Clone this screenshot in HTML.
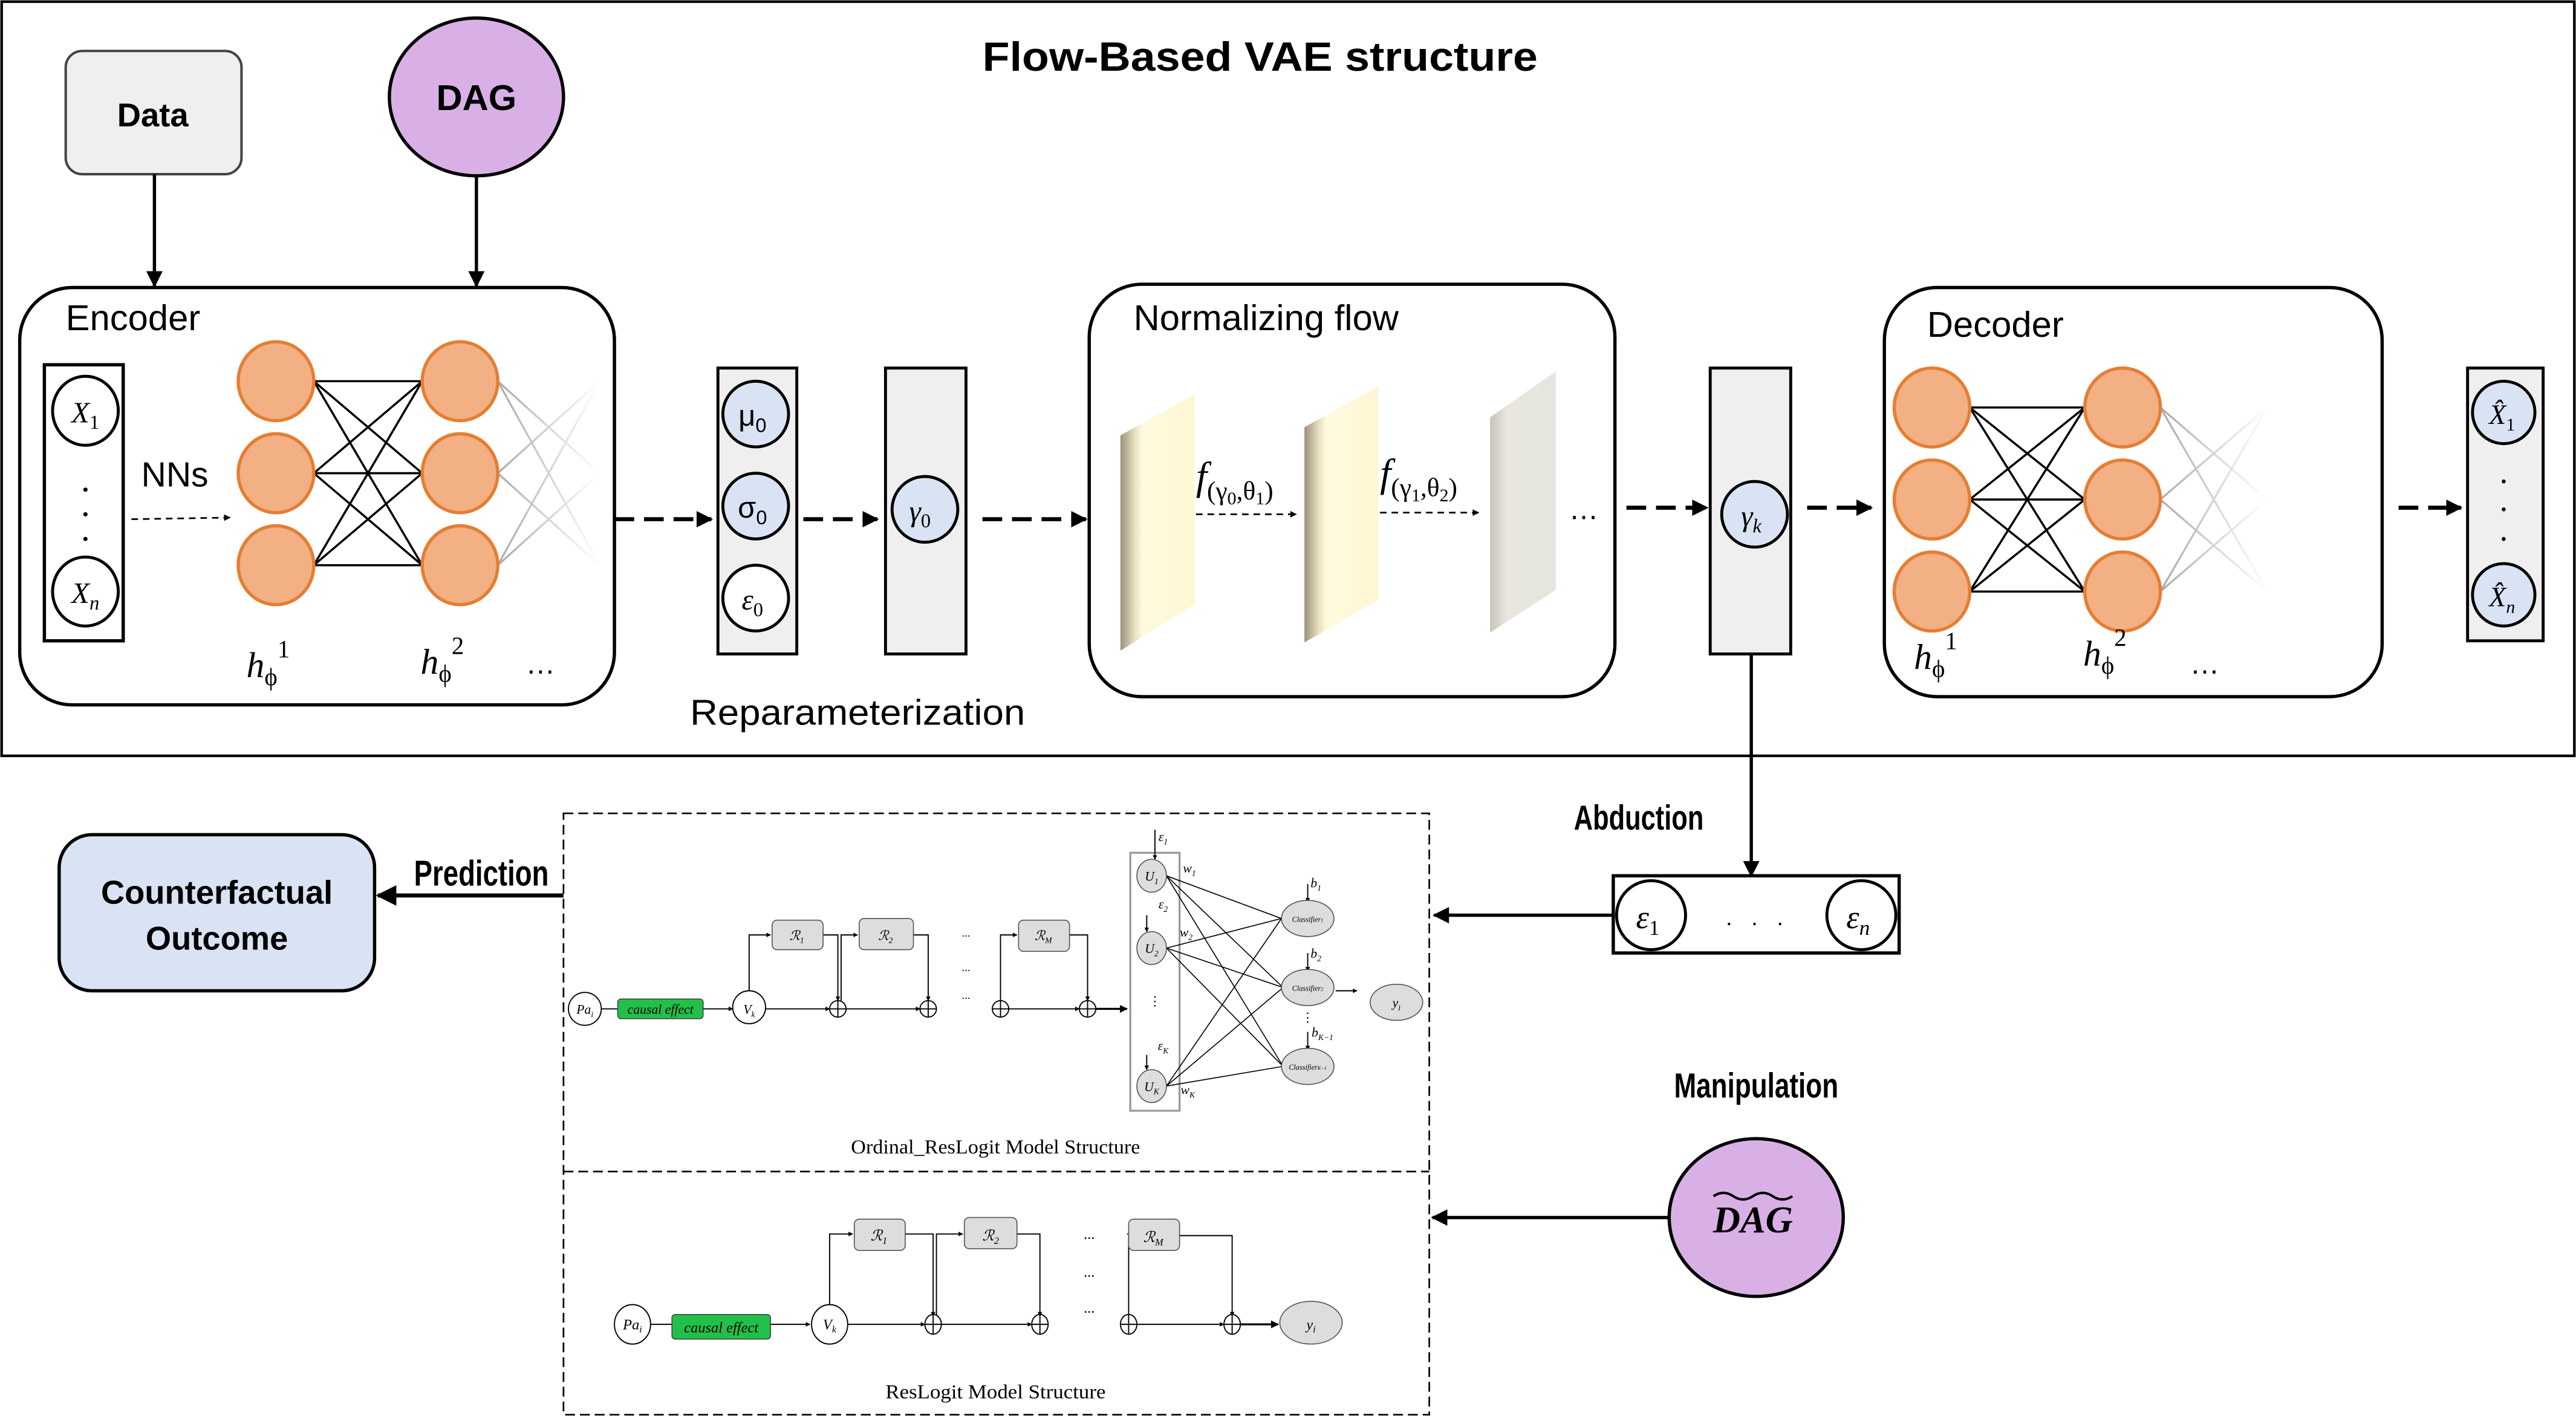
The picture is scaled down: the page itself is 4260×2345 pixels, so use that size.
<!DOCTYPE html>
<html><head><meta charset="utf-8"><style>
html,body{margin:0;padding:0;background:#fff}
svg{display:block}
text{font-family:"Liberation Sans",sans-serif}
.m{font-family:"Liberation Serif",serif;font-style:italic}
.s{font-family:"Liberation Serif",serif}
.n{font-family:"Liberation Sans",sans-serif;font-weight:bold}
</style></head><body>
<svg width="4260" height="2345" viewBox="0 0 1568 863" preserveAspectRatio="none" xmlns="http://www.w3.org/2000/svg">
<defs>
<marker id="a" viewBox="0 0 10 10" refX="9" refY="5" markerWidth="5" markerHeight="5" orient="auto"><path d="M0,0L10,5L0,10z" fill="#000"/></marker>
<marker id="b" viewBox="0 0 10 10" refX="9" refY="5" markerWidth="4" markerHeight="4" orient="auto"><path d="M0,0L10,5L0,10z" fill="#000"/></marker>
<linearGradient id="sl" x1="0" x2="1"><stop offset="0" stop-color="#9c927a"/><stop offset="0.2" stop-color="#e9e2c2"/><stop offset="0.3" stop-color="#fffbe0"/><stop offset="1" stop-color="#fff6d2"/></linearGradient>
<linearGradient id="sl3" x1="0" x2="1"><stop offset="0" stop-color="#c8c4b6"/><stop offset="0.25" stop-color="#e8e6df"/><stop offset="1" stop-color="#e6e5de"/></linearGradient>
<linearGradient id="fd" x1="0" x2="1"><stop offset="0" stop-color="#aaa"/><stop offset="1" stop-color="#fff"/></linearGradient>
</defs>

<rect x="1" y="1" width="1566" height="459" fill="none" stroke="#000" stroke-width="1.6"/>
<text x="767" y="43" font-size="25" font-weight="bold" text-anchor="middle" textLength="338" lengthAdjust="spacingAndGlyphs">Flow-Based VAE structure</text>

<rect x="40" y="31" width="107" height="75" rx="10" fill="#efefef" stroke="#444" stroke-width="1.5"/>
<text x="93" y="77" font-size="20" font-weight="bold" text-anchor="middle">Data</text>
<ellipse cx="290" cy="59" rx="53" ry="48" fill="#d9b0e6" stroke="#000" stroke-width="2"/>
<text x="290" y="67" font-size="22" font-weight="bold" text-anchor="middle">DAG</text>
<line x1="94" y1="106" x2="94" y2="174" stroke="#000" stroke-width="2" marker-end="url(#a)"/>
<line x1="290" y1="107" x2="290" y2="174" stroke="#000" stroke-width="2" marker-end="url(#a)"/>

<rect x="12" y="175" width="362" height="254" rx="32" fill="#fff" stroke="#000" stroke-width="2"/>
<text x="40" y="201" font-size="22">Encoder</text>
<rect x="27" y="222" width="48" height="168" fill="none" stroke="#000" stroke-width="2"/>
<ellipse cx="52" cy="250" rx="20" ry="21" fill="#fff" stroke="#000" stroke-width="1.8"/>
<text x="52" y="257" class="m" font-size="18" text-anchor="middle">X<tspan font-size="12" font-style="normal" dy="4">1</tspan></text>
<ellipse cx="52" cy="360" rx="20" ry="21" fill="#fff" stroke="#000" stroke-width="1.8"/>
<text x="52" y="367" class="m" font-size="18" text-anchor="middle">X<tspan font-size="12" dy="4">n</tspan></text>
<circle cx="52" cy="298" r="1.3"/><circle cx="52" cy="313" r="1.3"/><circle cx="52" cy="328" r="1.3"/>
<text x="86" y="296" font-size="21">NNs</text>
<line x1="80" y1="316" x2="140" y2="315" stroke="#000" stroke-dasharray="4,3" marker-end="url(#b)"/>
<g stroke="#000" stroke-width="1.3">
<line x1="191" y1="232" x2="257" y2="232"/><line x1="191" y1="232" x2="257" y2="288"/><line x1="191" y1="232" x2="257" y2="344"/>
<line x1="191" y1="288" x2="257" y2="232"/><line x1="191" y1="288" x2="257" y2="288"/><line x1="191" y1="288" x2="257" y2="344"/>
<line x1="191" y1="344" x2="257" y2="232"/><line x1="191" y1="344" x2="257" y2="288"/><line x1="191" y1="344" x2="257" y2="344"/>
</g>
<g stroke="url(#fd)" stroke-width="1.2">
<line x1="303" y1="232" x2="365" y2="232"/><line x1="303" y1="232" x2="365" y2="288"/><line x1="303" y1="232" x2="365" y2="344"/>
<line x1="303" y1="288" x2="365" y2="232"/><line x1="303" y1="288" x2="365" y2="288"/><line x1="303" y1="288" x2="365" y2="344"/>
<line x1="303" y1="344" x2="365" y2="232"/><line x1="303" y1="344" x2="365" y2="288"/><line x1="303" y1="344" x2="365" y2="344"/>
</g>
<g fill="#f2b084" stroke="#e57e32" stroke-width="2">
<ellipse cx="168" cy="232" rx="23" ry="24"/><ellipse cx="168" cy="288" rx="23" ry="24"/><ellipse cx="168" cy="344" rx="23" ry="24"/>
<ellipse cx="280" cy="232" rx="23" ry="24"/><ellipse cx="280" cy="288" rx="23" ry="24"/><ellipse cx="280" cy="344" rx="23" ry="24"/>
</g>
<text x="150" y="412" class="m" font-size="22">h<tspan font-size="15" font-style="normal" dy="5">ϕ</tspan><tspan font-size="15" font-style="normal" dy="-17">1</tspan></text>
<text x="256" y="410" class="m" font-size="22">h<tspan font-size="15" font-style="normal" dy="5">ϕ</tspan><tspan font-size="15" font-style="normal" dy="-17">2</tspan></text>
<text x="320" y="410" font-size="18">…</text>

<line x1="374" y1="316" x2="433" y2="316" stroke="#000" stroke-width="2.5" stroke-dasharray="12,6" marker-end="url(#b)"/>
<rect x="437" y="224" width="48" height="174" fill="#efefef" stroke="#000" stroke-width="1.8"/>
<circle cx="460" cy="252" r="20" fill="#dae3f3" stroke="#000" stroke-width="1.8"/>
<text x="458" y="259" font-size="18" text-anchor="middle">μ<tspan font-size="12" dy="4">0</tspan></text>
<circle cx="460" cy="308" r="20" fill="#dae3f3" stroke="#000" stroke-width="1.8"/>
<text x="458" y="315" font-size="18" text-anchor="middle">σ<tspan font-size="12" dy="4">0</tspan></text>
<circle cx="460" cy="364" r="20" fill="#fff" stroke="#000" stroke-width="1.8"/>
<text x="458" y="371" class="m" font-size="18" text-anchor="middle">ε<tspan font-size="12" font-style="normal" dy="4">0</tspan></text>
<line x1="489" y1="316" x2="534" y2="316" stroke="#000" stroke-width="2.5" stroke-dasharray="12,6" marker-end="url(#b)"/>
<rect x="539" y="224" width="49" height="174" fill="#efefef" stroke="#000" stroke-width="1.8"/>
<circle cx="563" cy="310" r="20" fill="#dae3f3" stroke="#000" stroke-width="1.8"/>
<text x="560" y="317" class="m" font-size="18" text-anchor="middle">γ<tspan font-size="12" font-style="normal" dy="4">0</tspan></text>
<text x="522" y="441" font-size="22" text-anchor="middle" textLength="204" lengthAdjust="spacingAndGlyphs">Reparameterization</text>
<line x1="598" y1="316" x2="661" y2="316" stroke="#000" stroke-width="2.5" stroke-dasharray="12,6" marker-end="url(#b)"/>

<rect x="663" y="173" width="320" height="251" rx="32" fill="#fff" stroke="#000" stroke-width="2"/>
<text x="690" y="201" font-size="22">Normalizing flow</text>
<polygon points="682,265 727,240 727,368 682,396" fill="url(#sl)"/>
<polygon points="794,260 839,235 839,365 794,391" fill="url(#sl)"/>
<polygon points="907,254 947,226 947,359 907,385" fill="url(#sl3)"/>
<text x="728" y="298" class="m" font-size="24">f<tspan font-size="16" font-style="normal" dy="6">(γ<tspan font-size="11" dy="3">0</tspan><tspan dy="-3">,θ</tspan><tspan font-size="11" dy="3">1</tspan><tspan dy="-3">)</tspan></tspan></text>
<text x="840" y="296" class="m" font-size="24">f<tspan font-size="16" font-style="normal" dy="6">(γ<tspan font-size="11" dy="3">1</tspan><tspan dy="-3">,θ</tspan><tspan font-size="11" dy="3">2</tspan><tspan dy="-3">)</tspan></tspan></text>
<line x1="728" y1="313" x2="789" y2="313" stroke="#000" stroke-dasharray="4,3" marker-end="url(#b)"/>
<line x1="840" y1="312" x2="900" y2="312" stroke="#000" stroke-dasharray="4,3" marker-end="url(#b)"/>
<text x="955" y="316" font-size="18">…</text>
<line x1="990" y1="309" x2="1039" y2="309" stroke="#000" stroke-width="2.5" stroke-dasharray="12,6" marker-end="url(#b)"/>
<rect x="1041" y="224" width="49" height="174" fill="#efefef" stroke="#000" stroke-width="1.8"/>
<circle cx="1068" cy="313" r="20" fill="#dae3f3" stroke="#000" stroke-width="1.8"/>
<text x="1066" y="320" class="m" font-size="18" text-anchor="middle">γ<tspan font-size="12" dy="4">k</tspan></text>
<line x1="1100" y1="309" x2="1139" y2="309" stroke="#000" stroke-width="2.5" stroke-dasharray="12,6" marker-end="url(#b)"/>

<rect x="1147" y="175" width="303" height="249" rx="32" fill="#fff" stroke="#000" stroke-width="2"/>
<text x="1173" y="205" font-size="22">Decoder</text>
<g stroke="#000" stroke-width="1.3">
<line x1="1199" y1="248" x2="1269" y2="248"/><line x1="1199" y1="248" x2="1269" y2="304"/><line x1="1199" y1="248" x2="1269" y2="360"/>
<line x1="1199" y1="304" x2="1269" y2="248"/><line x1="1199" y1="304" x2="1269" y2="304"/><line x1="1199" y1="304" x2="1269" y2="360"/>
<line x1="1199" y1="360" x2="1269" y2="248"/><line x1="1199" y1="360" x2="1269" y2="304"/><line x1="1199" y1="360" x2="1269" y2="360"/>
</g>
<g stroke="url(#fd)" stroke-width="1.2">
<line x1="1315" y1="248" x2="1380" y2="248"/><line x1="1315" y1="248" x2="1380" y2="304"/><line x1="1315" y1="248" x2="1380" y2="360"/>
<line x1="1315" y1="304" x2="1380" y2="248"/><line x1="1315" y1="304" x2="1380" y2="304"/><line x1="1315" y1="304" x2="1380" y2="360"/>
<line x1="1315" y1="360" x2="1380" y2="248"/><line x1="1315" y1="360" x2="1380" y2="304"/><line x1="1315" y1="360" x2="1380" y2="360"/>
</g>
<g fill="#f2b084" stroke="#e57e32" stroke-width="2">
<ellipse cx="1176" cy="248" rx="23" ry="24"/><ellipse cx="1176" cy="304" rx="23" ry="24"/><ellipse cx="1176" cy="360" rx="23" ry="24"/>
<ellipse cx="1292" cy="248" rx="23" ry="24"/><ellipse cx="1292" cy="304" rx="23" ry="24"/><ellipse cx="1292" cy="360" rx="23" ry="24"/>
</g>
<text x="1165" y="407" class="m" font-size="22">h<tspan font-size="15" font-style="normal" dy="5">ϕ</tspan><tspan font-size="15" font-style="normal" dy="-17">1</tspan></text>
<text x="1268" y="405" class="m" font-size="22">h<tspan font-size="15" font-style="normal" dy="5">ϕ</tspan><tspan font-size="15" font-style="normal" dy="-17">2</tspan></text>
<text x="1333" y="410" font-size="18">…</text>
<line x1="1460" y1="309" x2="1498" y2="309" stroke="#000" stroke-width="2.5" stroke-dasharray="12,6" marker-end="url(#b)"/>
<rect x="1502" y="224" width="46" height="166" fill="#efefef" stroke="#000" stroke-width="1.8"/>
<circle cx="1524" cy="251" r="19" fill="#dae3f3" stroke="#000" stroke-width="1.8"/>
<text x="1523" y="258" class="m" font-size="17" text-anchor="middle">X̂<tspan font-size="11" font-style="normal" dy="4">1</tspan></text>
<circle cx="1524" cy="362" r="19" fill="#dae3f3" stroke="#000" stroke-width="1.8"/>
<text x="1523" y="369" class="m" font-size="17" text-anchor="middle">X̂<tspan font-size="11" dy="4">n</tspan></text>
<circle cx="1524" cy="293" r="1.2"/><circle cx="1524" cy="310" r="1.2"/><circle cx="1524" cy="328" r="1.2"/>

<line x1="1066" y1="398" x2="1066" y2="533" stroke="#000" stroke-width="2" marker-end="url(#a)"/>
<text x="958" y="505" class="n" font-size="21" textLength="79" lengthAdjust="spacingAndGlyphs">Abduction</text>
<rect x="982" y="533" width="174" height="47" fill="#fff" stroke="#000" stroke-width="2"/>
<circle cx="1005" cy="557" r="21" fill="#fff" stroke="#000" stroke-width="1.8"/>
<text x="1003" y="565" class="m" font-size="20" text-anchor="middle">ε<tspan font-size="13" font-style="normal" dy="4">1</tspan></text>
<circle cx="1133" cy="557" r="21" fill="#fff" stroke="#000" stroke-width="1.8"/>
<text x="1131" y="565" class="m" font-size="20" text-anchor="middle">ε<tspan font-size="13" dy="4">n</tspan></text>
<text x="1068" y="563" font-size="14" text-anchor="middle">.&#160;&#160;&#160;.&#160;&#160;&#160;.</text>
<line x1="982" y1="557" x2="873" y2="557" stroke="#000" stroke-width="2" marker-end="url(#a)"/>

<text x="1019" y="668" class="n" font-size="21" textLength="100" lengthAdjust="spacingAndGlyphs">Manipulation</text>
<ellipse cx="1069" cy="741" rx="53" ry="48" fill="#d9b0e6" stroke="#000" stroke-width="2"/>
<text x="1067" y="750" class="m" font-size="23" font-weight="bold" text-anchor="middle">DAG</text>
<path d="M1043,728 q6,-4 12,0 t12,0 t12,0 t12,0" fill="none" stroke="#000" stroke-width="1.5"/>
<line x1="1016" y1="741" x2="872" y2="741" stroke="#000" stroke-width="2" marker-end="url(#a)"/>

<rect x="36" y="508" width="192" height="95" rx="20" fill="#dae3f3" stroke="#000" stroke-width="2"/>
<text x="132" y="550" font-size="20" font-weight="bold" text-anchor="middle">Counterfactual</text>
<text x="132" y="578" font-size="20" font-weight="bold" text-anchor="middle">Outcome</text>
<text x="252" y="539" class="n" font-size="22" textLength="82" lengthAdjust="spacingAndGlyphs">Prediction</text>
<line x1="343" y1="545" x2="230" y2="545" stroke="#000" stroke-width="2.5" marker-end="url(#a)"/>

<rect x="343" y="495" width="527" height="366" fill="#fff" stroke="#000" stroke-dasharray="6,3"/>
<line x1="343" y1="713" x2="870" y2="713" stroke="#000" stroke-dasharray="6,3"/>

<g stroke="#000" stroke-width="0.7" fill="none">
<ellipse cx="356" cy="614" rx="10" ry="10" fill="#fff"/>
<line x1="366" y1="614" x2="376" y2="614"/>
<line x1="428" y1="614" x2="446" y2="614" marker-end="url(#b)"/>
<circle cx="456" cy="613" r="10" fill="#fff"/>
<line x1="466" y1="614" x2="505" y2="614" marker-end="url(#b)"/>
<line x1="515" y1="614" x2="560" y2="614" marker-end="url(#b)"/>
<line x1="614" y1="614" x2="657" y2="614" marker-end="url(#b)"/>
<line x1="667" y1="614" x2="686" y2="614" marker-end="url(#b)" stroke-width="1.2"/>
<path d="M456,603 V569 H469" marker-end="url(#b)"/>
<path d="M501,569 H510 V609" marker-end="url(#b)"/>
<path d="M512,609 V569 H522" marker-end="url(#b)"/>
<path d="M556,569 H565 V609" marker-end="url(#b)"/>
<path d="M609,609 V569 H619" marker-end="url(#b)"/>
<path d="M651,569 H662 V609" marker-end="url(#b)"/>
<circle cx="510" cy="614" r="5" fill="#fff"/><path d="M505,614H515M510,609V619"/>
<circle cx="565" cy="614" r="5" fill="#fff"/><path d="M560,614H570M565,609V619"/>
<circle cx="609" cy="614" r="5" fill="#fff"/><path d="M604,614H614M609,609V619"/>
<circle cx="662" cy="614" r="5" fill="#fff"/><path d="M657,614H667M662,609V619"/>
<rect x="688" y="519" width="30" height="157" stroke="#999" stroke-width="1.2"/>
<g stroke-width="0.6">
<line x1="710" y1="533" x2="780" y2="559"/><line x1="710" y1="533" x2="781" y2="601"/><line x1="710" y1="533" x2="781" y2="649"/>
<line x1="710" y1="577" x2="780" y2="559"/><line x1="710" y1="577" x2="781" y2="601"/><line x1="710" y1="577" x2="781" y2="649"/>
<line x1="710" y1="661" x2="780" y2="559"/><line x1="710" y1="661" x2="781" y2="601"/><line x1="710" y1="661" x2="781" y2="649"/>
</g>
<line x1="703" y1="505" x2="703" y2="523" marker-end="url(#b)"/>
<line x1="698" y1="557" x2="698" y2="567" marker-end="url(#b)"/>
<line x1="698" y1="642" x2="698" y2="651" marker-end="url(#b)"/>
<line x1="796" y1="538" x2="796" y2="549" marker-end="url(#b)"/>
<line x1="796" y1="580" x2="796" y2="591" marker-end="url(#b)"/>
<line x1="796" y1="628" x2="796" y2="639" marker-end="url(#b)"/>
<line x1="813" y1="603" x2="826" y2="603" marker-end="url(#b)"/>
</g>
<rect x="376" y="608" width="52" height="12" rx="2" fill="#22c04a" stroke="#333" stroke-width="0.5"/>
<text x="402" y="617" class="m" font-size="8" text-anchor="middle">causal effect</text>
<g fill="#ddd" stroke="#555" stroke-width="0.6">
<rect x="470" y="560" width="31" height="18" rx="3"/><rect x="523" y="559" width="33" height="19" rx="3"/><rect x="620" y="560" width="31" height="19" rx="3"/>
<ellipse cx="701" cy="533" rx="9" ry="10"/><ellipse cx="701" cy="577" rx="9" ry="10"/><ellipse cx="701" cy="661" rx="9" ry="10"/>
<ellipse cx="796" cy="559" rx="16" ry="11"/><ellipse cx="796" cy="601" rx="16" ry="11"/><ellipse cx="796" cy="649" rx="16" ry="11"/>
<ellipse cx="850" cy="610" rx="16" ry="11"/>
</g>
<g class="m" font-size="8" text-anchor="middle">
<text x="356" y="617" class="m">Pa<tspan font-size="5" dy="2">i</tspan></text>
<text x="456" y="617" class="m">V<tspan font-size="5" dy="2">k</tspan></text>
<text x="485" y="572" class="m">ℛ<tspan font-size="5" dy="2">1</tspan></text>
<text x="539" y="572" class="m">ℛ<tspan font-size="5" dy="2">2</tspan></text>
<text x="635" y="572" class="m">ℛ<tspan font-size="5" dy="2">M</tspan></text>
<text x="701" y="536" class="m">U<tspan font-size="5" dy="2">1</tspan></text>
<text x="701" y="580" class="m">U<tspan font-size="5" dy="2">2</tspan></text>
<text x="701" y="664" class="m">U<tspan font-size="5" dy="2">K</tspan></text>
<text x="708" y="512" class="m">ε<tspan font-size="5" dy="2">1</tspan></text>
<text x="708" y="553" class="m">ε<tspan font-size="5" dy="2">2</tspan></text>
<text x="708" y="639" class="m">ε<tspan font-size="5" dy="2">K</tspan></text>
<text x="724" y="531" class="m">w<tspan font-size="5" dy="2">1</tspan></text>
<text x="722" y="570" class="m">w<tspan font-size="5" dy="2">2</tspan></text>
<text x="723" y="666" class="m">w<tspan font-size="5" dy="2">K</tspan></text>
<text x="801" y="540" class="m">b<tspan font-size="5" dy="2">1</tspan></text>
<text x="801" y="583" class="m">b<tspan font-size="5" dy="2">2</tspan></text>
<text x="805" y="631" class="m">b<tspan font-size="5" dy="2">K−1</tspan></text>
<text x="850" y="613" class="m">y<tspan font-size="5" dy="2">i</tspan></text>
</g>
<g class="m" font-size="4.5" text-anchor="middle">
<text x="796" y="561" class="m">Classifier<tspan font-size="3">1</tspan></text>
<text x="796" y="603" class="m">Classifier<tspan font-size="3">2</tspan></text>
<text x="796" y="651" class="m">Classifier<tspan font-size="3">K−1</tspan></text>
</g>
<g font-size="7" class="s" text-anchor="middle">
<text x="588" y="570" class="s">...</text><text x="588" y="591" class="s">...</text><text x="588" y="608" class="s">...</text>
</g>
<text x="703" y="612" class="s" font-size="8" text-anchor="middle">⋮</text>
<text x="796" y="622" class="s" font-size="8" text-anchor="middle">⋮</text>
<text x="606" y="702" class="s" font-size="12" text-anchor="middle" textLength="176" lengthAdjust="spacingAndGlyphs">Ordinal_ResLogit Model Structure</text>

<g stroke="#000" stroke-width="0.7" fill="none">
<ellipse cx="385" cy="806" rx="11" ry="12" fill="#fff"/>
<line x1="396" y1="806" x2="409" y2="806"/>
<line x1="469" y1="806" x2="493" y2="806" marker-end="url(#b)"/>
<ellipse cx="505" cy="806" rx="11" ry="12" fill="#fff"/>
<line x1="516" y1="806" x2="563" y2="806" marker-end="url(#b)"/>
<line x1="573" y1="806" x2="628" y2="806" marker-end="url(#b)"/>
<line x1="692" y1="806" x2="745" y2="806" marker-end="url(#b)"/>
<line x1="755" y1="806" x2="778" y2="806" marker-end="url(#b)" stroke-width="1.2"/>
<path d="M505,794 V751 H519" marker-end="url(#b)"/>
<path d="M551,751 H568 V801" marker-end="url(#b)"/>
<path d="M570,801 V751 H586" marker-end="url(#b)"/>
<path d="M619,751 H633 V801" marker-end="url(#b)"/>
<path d="M687,801 V751 H686" />
<path d="M718,752 H750 V801" marker-end="url(#b)"/>
<ellipse cx="568" cy="806" rx="5" ry="6" fill="#fff"/><path d="M563,806H573M568,800V812"/>
<ellipse cx="633" cy="806" rx="5" ry="6" fill="#fff"/><path d="M628,806H638M633,800V812"/>
<ellipse cx="687" cy="806" rx="5" ry="6" fill="#fff"/><path d="M682,806H692M687,800V812"/>
<ellipse cx="750" cy="806" rx="5" ry="6" fill="#fff"/><path d="M745,806H755M750,800V812"/>
</g>
<rect x="409" y="800" width="60" height="15" rx="2" fill="#22c04a" stroke="#333" stroke-width="0.5"/>
<text x="439" y="811" class="m" font-size="9" text-anchor="middle">causal effect</text>
<g fill="#ddd" stroke="#555" stroke-width="0.6">
<rect x="520" y="742" width="31" height="19" rx="3"/><rect x="587" y="741" width="32" height="19" rx="3"/><rect x="687" y="742" width="31" height="19" rx="3"/>
<ellipse cx="798" cy="805" rx="19" ry="13"/>
</g>
<g font-size="9" text-anchor="middle">
<text x="385" y="809" class="m">Pa<tspan font-size="6" dy="2">i</tspan></text>
<text x="505" y="809" class="m">V<tspan font-size="6" dy="2">k</tspan></text>
<text x="535" y="755" class="m">ℛ<tspan font-size="6" dy="2">1</tspan></text>
<text x="603" y="755" class="m">ℛ<tspan font-size="6" dy="2">2</tspan></text>
<text x="702" y="756" class="m">ℛ<tspan font-size="6" dy="2">M</tspan></text>
<text x="798" y="809" class="m">y<tspan font-size="6" dy="2">i</tspan></text>
<text x="663" y="754" class="s">...</text><text x="663" y="777" class="s">...</text><text x="663" y="799" class="s">...</text>
</g>
<text x="606" y="851" class="s" font-size="12" text-anchor="middle" textLength="134" lengthAdjust="spacingAndGlyphs">ResLogit Model Structure</text>
</svg>
</body></html>
